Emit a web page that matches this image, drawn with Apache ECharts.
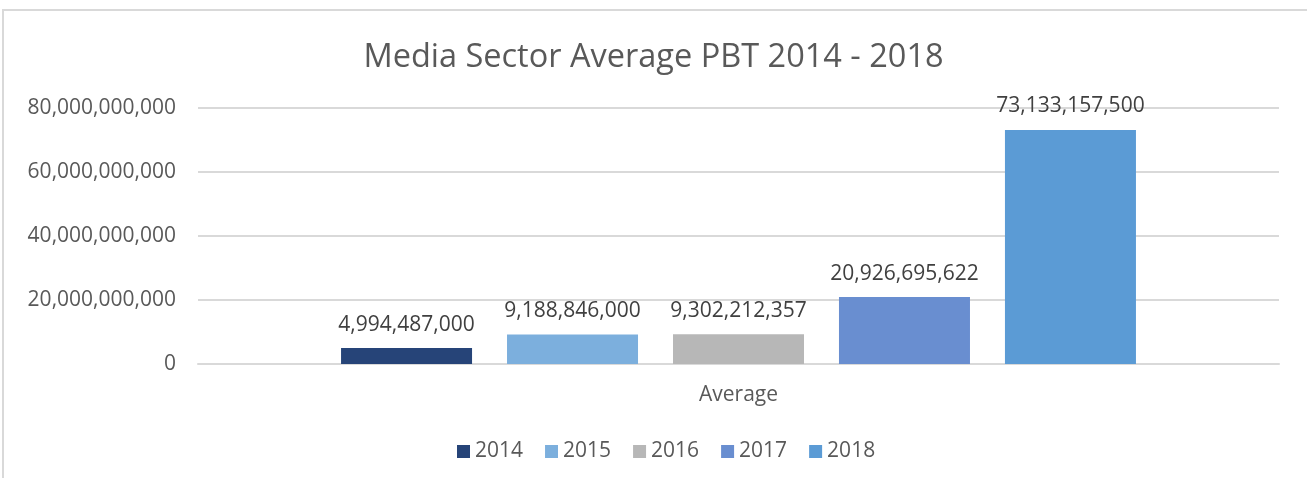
<!DOCTYPE html>
<html>
<head>
<meta charset="utf-8">
<script src="https://cdn.jsdelivr.net/npm/echarts@6/dist/echarts.min.js"></script>
<style>
  html, body { margin: 0; padding: 0; background: #fff; }
  #frame {
    position: absolute; left: 2px; top: 9px; width: 1320px; height: 480px;
    border-left: 2px solid #d9d9d9; border-top: 2px solid #d9d9d9;
  }
  #chart { position: absolute; left: 0; top: 0; width: 1307px; height: 478px; }
</style>
</head>
<body>
<div id="frame"></div>
<div id="chart"></div>
<script>
const categories = ['Average']
const years = ['2014', '2015', '2016', '2017', '2018']
const values = [4994487000, 9188846000, 9302212357, 20926695622, 73133157500]
const colors = ['#264478', '#7cafdd', '#b7b7b7', '#698ed0', '#5b9bd5']

const font = 'Open Sans'
const textColor = '#595959'

function fmt(v) {
  return Math.round(v).toLocaleString('en-US')
}

const chart = echarts.init(document.getElementById('chart'))
chart.setOption({
  animation: false,
  title: {
    text: 'Media Sector Average PBT 2014 - 2018',
    left: 'center',
    top: 36,
    textStyle: { fontFamily: font, fontSize: 32.5, fontWeight: 'normal', color: textColor }
  },
  legend: {
    bottom: 11,
    left: 452,
    itemWidth: 13,
    itemHeight: 13,
    itemGap: 22,
    icon: 'rect',
    textStyle: { fontFamily: font, fontSize: 21, color: textColor },
    data: years
  },
  grid: { left: 198, right: 28, top: 108, bottom: 114 },
  xAxis: {
    type: 'category',
    data: categories,
    axisLine: { lineStyle: { color: '#d9d9d9', width: 2 } },
    axisTick: { show: false },
    axisLabel: { fontFamily: font, fontSize: 21, color: textColor, margin: 21 }
  },
  yAxis: {
    type: 'value',
    min: 0,
    max: 80000000000,
    interval: 20000000000,
    axisLine: { show: false },
    axisTick: { show: false },
    axisLabel: { fontFamily: font, fontSize: 21, color: textColor, margin: 22, formatter: fmt },
    splitLine: { lineStyle: { color: '#d9d9d9', width: 2 } }
  },
  series: years.map((y, i) => ({
    name: y,
    type: 'bar',
    barWidth: 131,
    barGap: '26.7%',
    itemStyle: { color: colors[i] },
    label: {
      show: true,
      position: 'top',
      distance: 13,
      fontFamily: font,
      fontSize: 21,
      color: '#404040',
      formatter: p => fmt(p.value)
    },
    data: [values[i]]
  }))
})
</script>
</body>
</html>
